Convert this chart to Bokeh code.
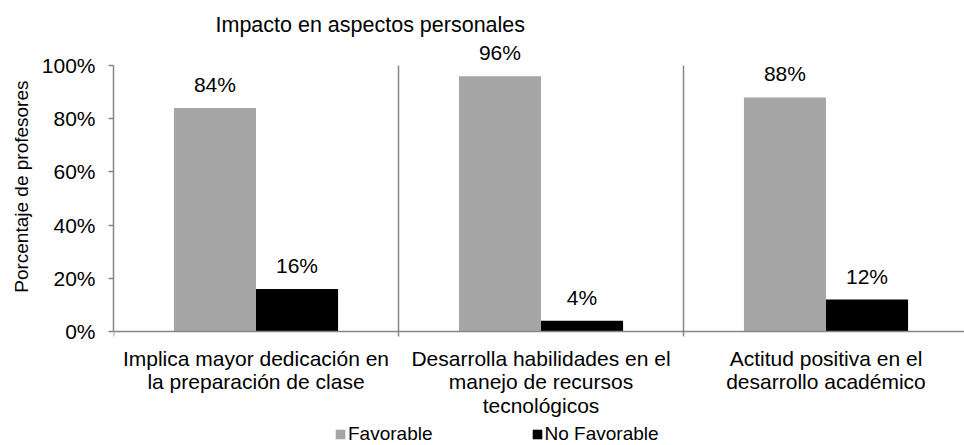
from bokeh.plotting import figure
from bokeh.models import (ColumnDataSource, Range1d, FixedTicker, NumeralTickFormatter,
                          LabelSet, Legend, LegendItem, Title)
from bokeh.core.properties import value
from bokeh.transform import dodge
from bokeh.embed import file_html
from bokeh.resources import INLINE
import numpy as np

title_text = "Impacto en aspectos personales"
y_title = "Porcentaje de profesores"
categories = [
    "Implica mayor dedicación en\nla preparación de clase",
    "Desarrolla habilidades en el\nmanejo de recursos\ntecnológicos",
    "Actitud positiva en el\ndesarrollo académico",
]
series_names = ["Favorable", "No Favorable"]
favorable = [0.84, 0.96, 0.88]
no_favorable = [0.16, 0.04, 0.12]
y_ticks = [0, 0.2, 0.4, 0.6, 0.8, 1.0]

FONT = "Liberation Sans"
GRAY = "#a6a6a6"
BLACK = "#000000"
AXIS = "#868686"

W, H = 964, 445
LEFT, TOP = 113, 41
Y0_PX, Y1_PX = 331, 65          # pixel rows of 0% and 100%
CAT_PX = 285                    # pixels per category
ppu = Y0_PX - Y1_PX
y_end = 1 + (Y1_PX - TOP) / ppu
y_start = 1 - (H - Y1_PX) / ppu
x_end = (W - LEFT) / CAT_PX

n = len(categories)
idx = np.arange(n) + 0.5
src = ColumnDataSource(dict(
    idx=idx,
    fav=favorable,
    nofav=no_favorable,
    fav_lbl=[f"{round(v*100)}%" for v in favorable],
    nofav_lbl=[f"{round(v*100)}%" for v in no_favorable],
))

p = figure(width=W, height=H, output_backend="svg", toolbar_location=None,
           x_range=Range1d(0, x_end), y_range=Range1d(y_start, y_end),
           min_border_left=LEFT, min_border_right=0, min_border_top=TOP, min_border_bottom=0)
p.outline_line_color = None
p.background_fill_color = "white"

# category separators (from category boundaries)
bounds = np.arange(1, n)
p.segment(x0=bounds, x1=bounds, y0=[0] * len(bounds), y1=[1] * len(bounds),
          line_color=AXIS, line_width=1.5)

bw = 0.288
r1 = p.vbar(x=dodge("idx", -bw / 2, range=p.x_range), top="fav", width=bw, source=src,
            fill_color=GRAY, line_color=None)
r2 = p.vbar(x=dodge("idx", bw / 2, range=p.x_range), top="nofav", width=bw, source=src,
            fill_color=BLACK, line_color=None)

for col, lbl, off in (("fav", "fav_lbl", -bw / 2), ("nofav", "nofav_lbl", bw / 2)):
    ls = LabelSet(x=dodge("idx", off, range=p.x_range), y=col, text=lbl, source=src,
                  text_align="center", text_baseline="alphabetic", y_offset=16,
                  text_font=value(FONT), text_font_size=value("21px"), text_color="#000000")
    p.add_layout(ls)

# title
p.title.text = title_text
p.title.text_font = FONT
p.title.text_font_size = "21.5px"
p.title.text_font_style = "normal"
p.title.text_color = "#000000"
p.title.align = "left"
p.title.offset = 102

# x axis, drawn at y = 0
p.xaxis.fixed_location = 0
p.xaxis.ticker = FixedTicker(ticks=list(idx), minor_ticks=list(range(n + 1)))
p.xaxis.major_label_overrides = {float(v): c for v, c in zip(idx, categories)}
p.xaxis.major_tick_line_color = None
p.xaxis.major_tick_out = 0
p.xaxis.minor_tick_out = 5
p.xaxis.minor_tick_in = 0
p.xaxis.minor_tick_line_color = AXIS
p.xaxis.minor_tick_line_width = 1.5
p.xaxis.axis_line_color = AXIS
p.xaxis.axis_line_width = 1.5
p.xaxis.major_label_text_font = FONT
p.xaxis.major_label_text_font_size = "21px"
p.xaxis.major_label_text_color = "#000000"
p.xaxis.major_label_text_line_height = 1.04
p.xaxis.major_label_standoff = 10

p.xgrid.grid_line_color = None
p.ygrid.grid_line_color = None

# y axis
p.yaxis.bounds = (0, 1)
p.yaxis.ticker = FixedTicker(ticks=y_ticks)
p.yaxis.formatter = NumeralTickFormatter(format="0%")
p.yaxis.minor_tick_line_color = None
p.yaxis.major_tick_out = 5
p.yaxis.major_tick_in = 0
p.yaxis.major_tick_line_color = AXIS
p.yaxis.major_tick_line_width = 1.5
p.yaxis.axis_line_color = AXIS
p.yaxis.axis_line_width = 1.5
p.yaxis.major_label_text_font = FONT
p.yaxis.major_label_text_font_size = "21px"
p.yaxis.major_label_text_color = "#000000"
p.yaxis.major_label_standoff = 13

ytitle = Title(text=y_title, align="right", offset=Y1_PX + 15 - TOP,
               text_font=FONT, text_font_size="19px", text_font_style="normal",
               text_color="#000000", standoff=13)
p.add_layout(ytitle, "left")

legend = Legend(items=[LegendItem(label=series_names[0], renderers=[r1]),
                       LegendItem(label=series_names[1], renderers=[r2])],
                orientation="horizontal", location=(221, 0),
                label_text_font=FONT, label_text_font_size="19px", label_text_color="#000000",
                glyph_width=12, glyph_height=12, label_standoff=2, spacing=98,
                padding=0, margin=0, border_line_color=None, background_fill_alpha=0)
p.add_layout(legend)

open("out.html", "w").write(file_html(p, INLINE))
